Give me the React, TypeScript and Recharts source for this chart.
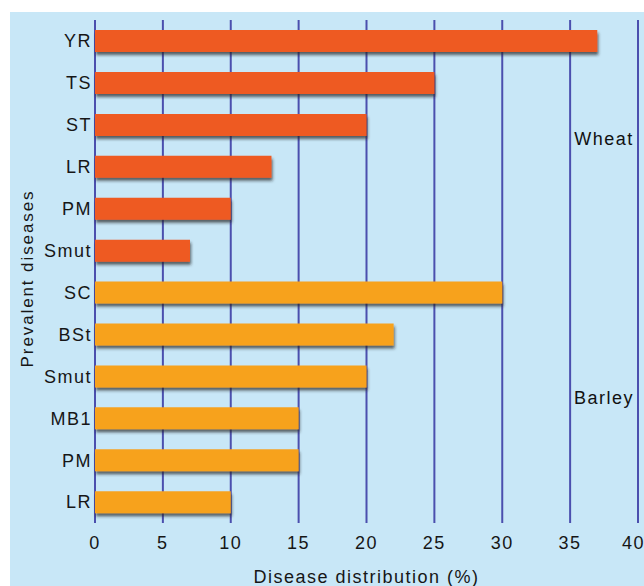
import React from 'react';
import { BarChart, Bar, XAxis, YAxis, CartesianGrid, Cell, ReferenceArea } from 'recharts';

const wheatDiseases = ['YR', 'TS', 'ST', 'LR', 'PM', 'Smut'];
const wheatValues = [37, 25, 20, 13, 10, 7];
const barleyDiseases = ['SC', 'BSt', 'Smut', 'MB1', 'PM', 'LR'];
const barleyValues = [30, 22, 20, 15, 15, 10];
const xTicks = [0, 5, 10, 15, 20, 25, 30, 35, 40];

const cropColors: Record<string, string> = { Wheat: '#ee5a24', Barley: '#f7a21f' };

const rows = [
  ...wheatDiseases.map((d, i) => ({ key: `Wheat-${d}`, label: d, crop: 'Wheat', value: wheatValues[i] })),
  ...barleyDiseases.map((d, i) => ({ key: `Barley-${d}`, label: d, crop: 'Barley', value: barleyValues[i] })),
];

const tickStyle = {
  fontFamily: 'Liberation Sans, Arial, sans-serif',
  fontSize: 18,
  letterSpacing: 1.5,
  fill: '#161616',
};

export default function App() {
  // fixed so the page never gets a scrollbar
  return (
    <div style={{ position: 'fixed', left: 10, top: 12, width: 634, height: 574, background: '#c8e7f7' }}>
      <BarChart
        width={634}
        height={574}
        data={rows}
        layout="vertical"
        margin={{ top: 8, right: 6, bottom: 3, left: 0 }}
        barCategoryGap="24%"
      >
        <defs>
          <filter id="barShadow" x="-5%" y="-30%" width="110%" height="190%">
            <feDropShadow dx="1" dy="3" stdDeviation="1.6" floodColor="#222" floodOpacity="0.7" />
          </filter>
        </defs>
        <CartesianGrid horizontal={false} stroke="#4b4fae" strokeWidth={2} />
        <XAxis
          type="number"
          domain={[0, 40]}
          ticks={xTicks}
          axisLine={false}
          tickLine={false}
          tickSize={0}
          tickMargin={13}
          height={60}
          tick={tickStyle}
          label={{
            value: 'Disease distribution (%)',
            position: 'insideBottom',
            offset: 0,
            style: { ...tickStyle },
          }}
        />
        <YAxis
          type="category"
          dataKey="key"
          width={85}
          axisLine={false}
          tickLine={false}
          tickSize={0}
          tickMargin={3}
          interval={0}
          tick={tickStyle}
          tickFormatter={(k: string) => k.split('-')[1]}
          label={{
            value: 'Prevalent diseases',
            angle: -90,
            position: 'insideLeft',
            offset: 17,
            dy: 7,
            style: { ...tickStyle, fontSize: 17, letterSpacing: 1.9, textAnchor: 'middle' },
          }}
        />
        <ReferenceArea
          y1="Wheat-YR"
          y2="Wheat-Smut"
          x1={35}
          x2={40}
          fill="none"
          stroke="none"
          label={{ value: 'Wheat', position: 'center', dy: -7, style: { ...tickStyle, fill: '#111' } }}
        />
        <ReferenceArea
          y1="Barley-SC"
          y2="Barley-LR"
          x1={35}
          x2={40}
          fill="none"
          stroke="none"
          label={{ value: 'Barley', position: 'center', style: { ...tickStyle, fill: '#111' } }}
        />
        <Bar dataKey="value" isAnimationActive={false}>
          {rows.map((r) => (
            <Cell key={r.key} fill={cropColors[r.crop]} filter="url(#barShadow)" />
          ))}
        </Bar>
      </BarChart>
    </div>
  );
}
